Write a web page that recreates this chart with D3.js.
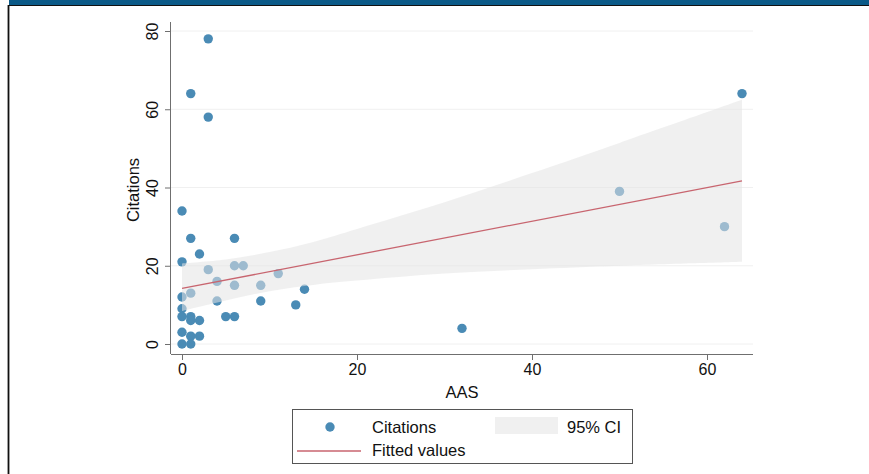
<!DOCTYPE html>
<html>
<head>
<meta charset="utf-8">
<script src="https://cdn.jsdelivr.net/npm/d3@7/dist/d3.min.js"></script>
<style>
  html, body { margin: 0; padding: 0; background: #fff; }
  svg { display: block; font-family: "Liberation Sans", Arial, Helvetica, sans-serif; }
</style>
</head>
<body>
<svg id="chart" width="869" height="474"></svg>
<script>
// Observations: AAS score (x) and citation count (y)
const aas = [0, 1, 2, 0, 6, 3, 4, 6, 7, 6, 9, 11, 14, 13, 9, 4, 5, 6, 1, 0, 0, 0, 1, 1, 2, 0, 1, 2, 0, 1, 3, 1, 3, 32, 64, 50, 62];
const citations = [34, 27, 23, 21, 27, 19, 16, 20, 20, 15, 15, 18, 14, 10, 11, 11, 7, 7, 13, 12, 9, 7, 7, 6, 6, 3, 2, 2, 0, 0, 78, 64, 58, 4, 64, 39, 30];

// Linear fit and its 95% confidence band
const fitX = [0, 64];
const fitY = [14.2, 41.7];
const ciX = [0, 5, 10, 15, 20, 30, 40, 50, 64];
const ciLow = [8.4, 11.1, 13.5, 15.1, 16.2, 18.0, 19.1, 20.0, 21.0];
const ciHigh = [20.6, 21.6, 23.5, 26.1, 29.4, 36.2, 43.7, 51.4, 62.4];

// Axis ticks and labels
const xTicks = [0, 20, 40, 60];
const yTicks = [0, 20, 40, 60, 80];
const xTitle = "AAS";
const yTitle = "Citations";
const legendItems = ["Citations", "95% CI", "Fitted values"];

const svg = d3.select("#chart");
const W = 869, H = 474;

// Outer frame: title band and border
svg.append("rect").attr("x", 9).attr("y", 0).attr("width", W - 9).attr("height", 5).attr("fill", "#0b5a88");
svg.append("line").attr("x1", 8).attr("x2", W).attr("y1", 5.5).attr("y2", 5.5).attr("stroke", "#111").attr("stroke-width", 1.2);
svg.append("line").attr("x1", 8.5).attr("x2", 8.5).attr("y1", 5).attr("y2", H).attr("stroke", "#111").attr("stroke-width", 1.8);

const x = d3.scaleLinear().domain([0, 60]).range([182, 707]);
const y = d3.scaleLinear().domain([0, 80]).range([344, 31]);

const plotLeft = 171, plotRight = 753, plotTop = 22, plotBottom = 354;

// Gridlines
svg.append("g").selectAll("line").data(yTicks).join("line")
  .attr("x1", plotLeft).attr("x2", plotRight)
  .attr("y1", d => y(d)).attr("y2", d => y(d))
  .attr("stroke", "#f0f0f0").attr("stroke-width", 1);

// Scatter points
const pts = aas.map((a, i) => ({ a, c: citations[i] }));
svg.append("g").selectAll("circle").data(pts).join("circle")
  .attr("cx", d => x(d.a)).attr("cy", d => y(d.c)).attr("r", 4.7)
  .attr("fill", "#4a8bb5");

// Confidence band, drawn translucently over the points
const band = ciX.map((v, i) => ({ v, lo: ciLow[i], hi: ciHigh[i] }));
svg.append("path").datum(band)
  .attr("d", d3.area().x(d => x(d.v)).y0(d => y(d.lo)).y1(d => y(d.hi)).curve(d3.curveCatmullRom))
  .attr("fill", "#e3e3e3").attr("fill-opacity", 0.55);

// Fitted line
const fit = fitX.map((v, i) => ({ v, f: fitY[i] }));
svg.append("path").datum(fit)
  .attr("d", d3.line().x(d => x(d.v)).y(d => y(d.f)))
  .attr("fill", "none").attr("stroke", "#c8656f").attr("stroke-width", 1.3);

// X axis
const xAxis = svg.append("g").attr("transform", `translate(0,${plotBottom})`)
  .call(d3.axisBottom(x).tickValues(xTicks).tickSize(6).tickPadding(4));
xAxis.select(".domain").attr("d", `M${plotLeft},0.5H${plotRight}`).attr("stroke", "#6f6f6f");
xAxis.selectAll(".tick line").attr("stroke", "#6f6f6f");
xAxis.selectAll(".tick text").attr("font-size", 16).attr("fill", "#111")
  .attr("font-family", "Liberation Sans, Arial, sans-serif");

// Y axis with rotated labels
const yAxis = svg.append("g").attr("transform", `translate(${plotLeft},0)`)
  .call(d3.axisLeft(y).tickValues(yTicks).tickSize(6));
yAxis.select(".domain").attr("d", `M-0.5,${plotTop}V${plotBottom}`).attr("stroke", "#6f6f6f");
yAxis.selectAll(".tick line").attr("stroke", "#6f6f6f");
yAxis.selectAll(".tick text")
  .attr("x", null).attr("dy", null)
  .attr("transform", "translate(-19,0) rotate(-90)")
  .attr("text-anchor", "middle").attr("dominant-baseline", "central")
  .attr("font-size", 16).attr("fill", "#111")
  .attr("font-family", "Liberation Sans, Arial, sans-serif");

// Axis titles
svg.append("text").attr("x", 462).attr("y", 398).attr("text-anchor", "middle")
  .attr("font-size", 16.5).attr("fill", "#111").text(xTitle);
svg.append("text").attr("transform", "translate(139,190) rotate(-90)").attr("text-anchor", "middle")
  .attr("font-size", 16.5).attr("fill", "#111").text(yTitle);

// Legend
const lg = svg.append("g");
lg.append("rect").attr("x", 292.5).attr("y", 409.5).attr("width", 340).attr("height", 54)
  .attr("fill", "#fff").attr("stroke", "#555").attr("stroke-width", 1);
lg.append("circle").attr("cx", 330).attr("cy", 427).attr("r", 4.7).attr("fill", "#4a8bb5");
lg.append("rect").attr("x", 495).attr("y", 417).attr("width", 63).attr("height", 17)
  .attr("fill", "#e3e3e3").attr("fill-opacity", 0.55);
lg.append("line").attr("x1", 297).attr("x2", 361).attr("y1", 451).attr("y2", 451)
  .attr("stroke", "#c8656f").attr("stroke-width", 1.3);
lg.append("text").attr("x", 372).attr("y", 433).attr("font-size", 16.5).attr("fill", "#111").text(legendItems[0]);
lg.append("text").attr("x", 567).attr("y", 433).attr("font-size", 16.5).attr("fill", "#111").text(legendItems[1]);
lg.append("text").attr("x", 372).attr("y", 456).attr("font-size", 16.5).attr("fill", "#111").text(legendItems[2]);
</script>
</body>
</html>
